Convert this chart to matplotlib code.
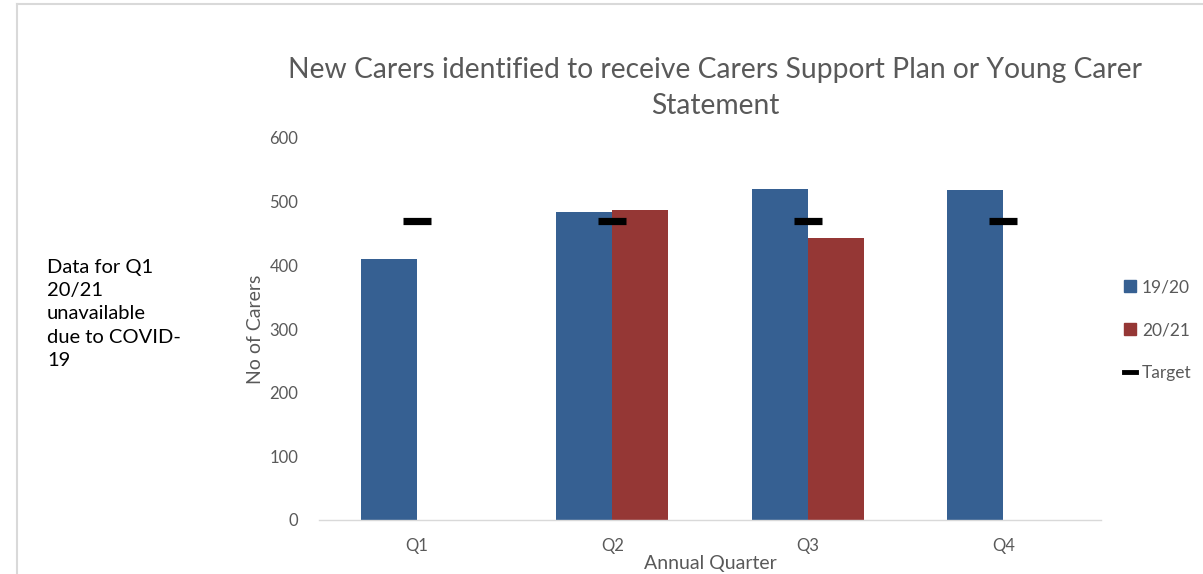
import numpy as np
import matplotlib
matplotlib.use("Agg")
import matplotlib.pyplot as plt
from matplotlib.patches import Patch
from matplotlib.lines import Line2D

plt.rcParams['font.family'] = ['Lato', 'DejaVu Sans']

quarters = ['Q1', 'Q2', 'Q3', 'Q4']
carers_1920 = [410, 483, 520, 518]
carers_2021 = [np.nan, 487, 443, np.nan]
target = [469, 469, 469, 469]

blue = '#366092'
red = '#953735'
grey = '#595959'

fig = plt.figure(figsize=(12.03, 5.74), dpi=100)
ax = fig.add_axes([319/1203, 54/574, 782/1203, 382/574])

x = np.arange(len(quarters))
w = 0.286
ax.bar(x - w/2, carers_1920, width=w, color=blue, zorder=2)
ax.bar(x + w/2, carers_2021, width=w, color=red, zorder=2)
ax.plot(x, target, linestyle='none', marker='_', ms=19.5, mew=5.2, color='black', zorder=3)

ax.set_xlim(-0.5, 3.5)
ax.set_ylim(0, 600)
ax.set_yticks(range(0, 601, 100))
ax.set_xticks(x)
ax.set_xticklabels(quarters)
ax.tick_params(length=0, colors=grey, labelsize=12)
ax.tick_params(axis='y', pad=15)
ax.tick_params(axis='x', pad=13)
for s in ['top', 'right', 'left']:
    ax.spines[s].set_visible(False)
ax.spines['bottom'].set_color('#D9D9D9')
ax.spines['bottom'].set_linewidth(1)

ax.set_ylabel('No of Carers', color=grey, fontsize=14, labelpad=4)
ax.set_xlabel('Annual Quarter', color=grey, fontsize=14, labelpad=1)

fig.text(715/1203, 1 - 88/574,
         'New Carers identified to receive Carers Support Plan or Young Carer\nStatement',
         ha='center', va='center', color=grey, fontsize=20.3, linespacing=1.45)

fig.text(47/1203, 1 - 314/574, 'Data for Q1\n20/21\nunavailable\ndue to COVID-\n19',
         ha='left', va='center', color='black', fontsize=14.5, linespacing=1.45)

handles = [Patch(color=blue), Patch(color=red),
           Line2D([], [], color='black', lw=3.5)]
leg = fig.legend(handles, ['19/20', '20/21', 'Target'], loc='center left',
                 bbox_to_anchor=(1108/1203, 1 - 330/574), frameon=False,
                 fontsize=12.5, labelcolor=grey, handlelength=0.7, handleheight=0.7,
                 handletextpad=0.35, labelspacing=1.55)

# light frame on top and left
fig.add_artist(Line2D([16.5/1203, 16.5/1203], [0, 1 - 3.5/574], color='#D9D9D9', lw=1.5))
fig.add_artist(Line2D([16.5/1203, 1], [1 - 3.5/574, 1 - 3.5/574], color='#D9D9D9', lw=1.5))

fig.savefig('out.png', dpi=100)
